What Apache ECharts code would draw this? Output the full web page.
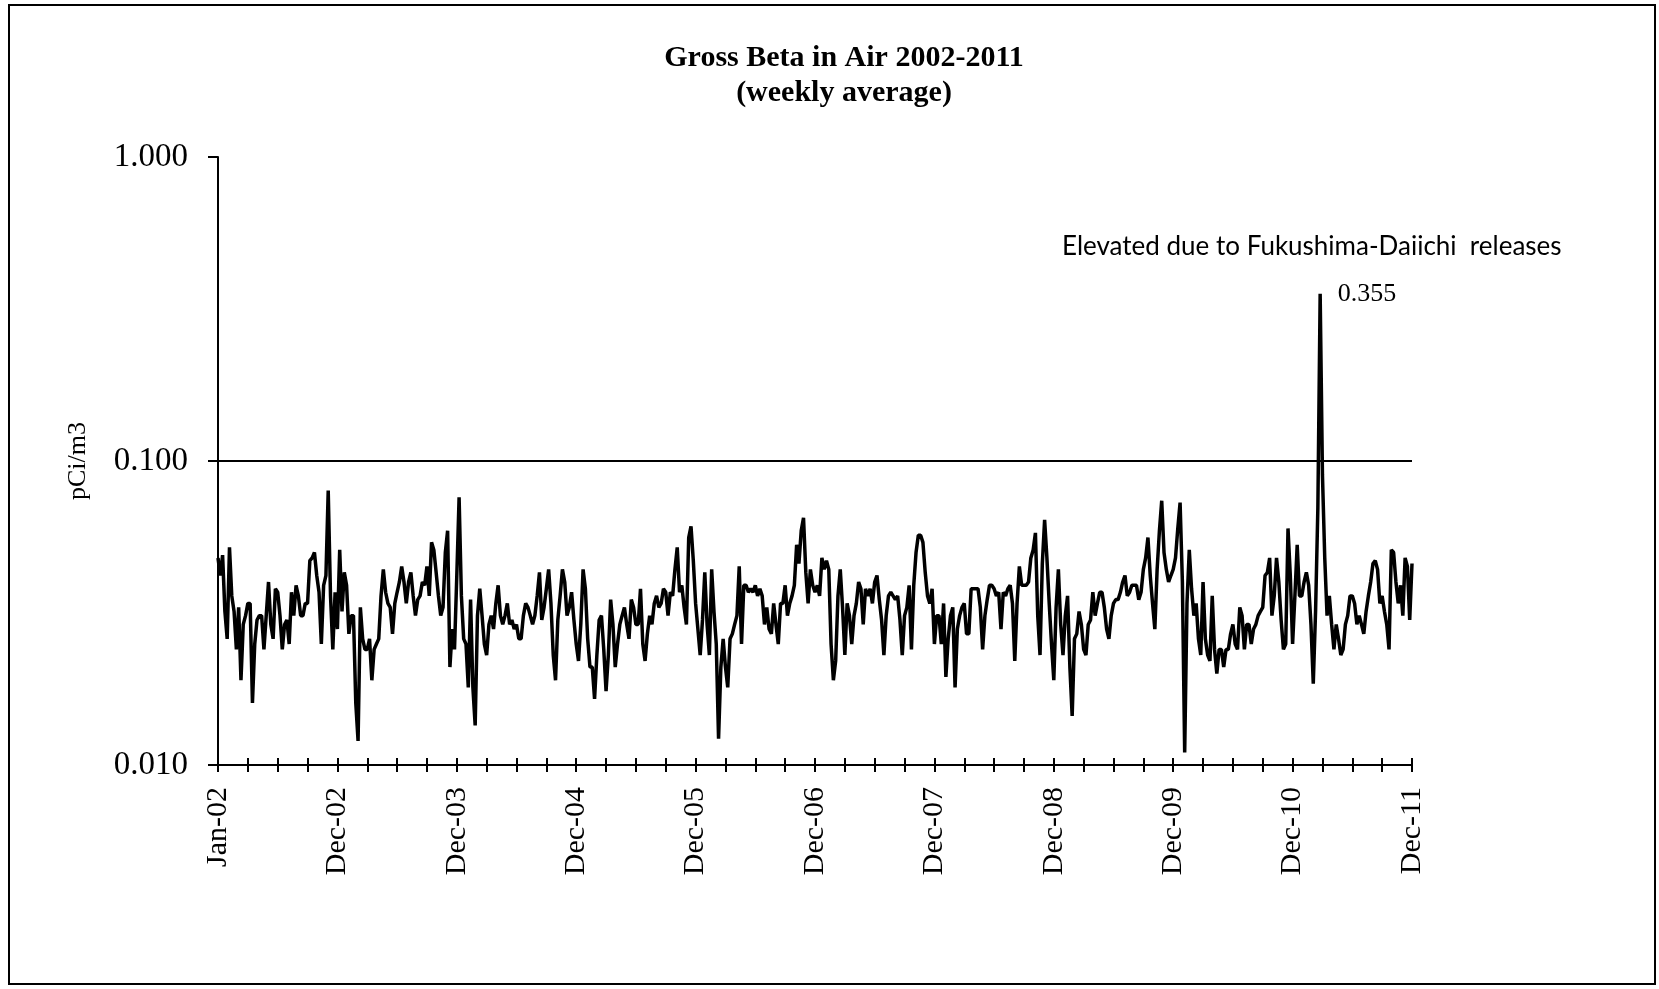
<!DOCTYPE html>
<html>
<head>
<meta charset="utf-8">
<script src="https://cdn.jsdelivr.net/npm/echarts@6/dist/echarts.min.js"></script>
<style>html,body{margin:0;padding:0;background:#fff}#chart{width:1659px;height:989px}</style>
</head>
<body>
<div id="chart"></div>
<script>
// Weekly gross beta values (pCi/m3), one array per year
const y2002 = [0.048,0.042,0.049,0.032,0.026,0.052,0.036,0.032,0.024,0.033,
  0.019,0.029,0.031,0.034,0.034,0.016,0.025,0.030,0.031,0.031,
  0.024,0.031,0.040,0.029,0.026,0.038,0.037,0.031,0.024,0.029,
  0.030,0.025,0.037,0.031,0.039,0.036,0.031,0.031,0.034,0.034,
  0.047,0.048,0.050,0.042,0.037,0.025,0.039,0.042,0.080,0.036,
  0.024,0.037];
const y2003 = [0.028,0.051,0.032,0.043,0.039,0.027,0.031,0.031,0.016,0.012,
  0.033,0.026,0.024,0.024,0.026,0.019,0.024,0.025,0.026,0.036,
  0.044,0.037,0.034,0.033,0.027,0.034,0.037,0.040,0.045,0.040,
  0.034,0.040,0.043,0.036,0.031,0.035,0.036,0.040,0.039,0.045,
  0.036,0.054,0.051,0.043,0.036,0.031,0.033,0.050,0.059,0.021,
  0.028,0.024];
const y2004 = [0.042,0.076,0.036,0.026,0.025,0.018,0.035,0.018,0.0135,0.031,
  0.038,0.031,0.025,0.023,0.029,0.031,0.028,0.034,0.039,0.031,
  0.029,0.031,0.034,0.029,0.030,0.028,0.029,0.026,0.026,0.031,
  0.034,0.033,0.031,0.029,0.031,0.036,0.043,0.030,0.033,0.038,
  0.044,0.034,0.023,0.019,0.030,0.036,0.044,0.040,0.031,0.033,
  0.037,0.030];
const y2005 = [0.025,0.022,0.029,0.044,0.038,0.026,0.021,0.021,0.0165,0.023,
  0.030,0.031,0.024,0.0175,0.023,0.035,0.029,0.021,0.025,0.029,
  0.031,0.033,0.029,0.026,0.035,0.033,0.029,0.029,0.038,0.025,
  0.022,0.027,0.031,0.029,0.034,0.036,0.033,0.034,0.038,0.037,
  0.031,0.037,0.036,0.044,0.052,0.037,0.039,0.033,0.029,0.056,
  0.061,0.047];
const y2006 = [0.034,0.028,0.023,0.030,0.043,0.029,0.023,0.044,0.032,0.025,
  0.0122,0.021,0.026,0.021,0.018,0.026,0.027,0.029,0.031,0.045,
  0.025,0.039,0.039,0.037,0.038,0.037,0.039,0.036,0.038,0.036,
  0.029,0.033,0.028,0.027,0.034,0.029,0.025,0.034,0.034,0.039,
  0.031,0.034,0.036,0.039,0.053,0.046,0.059,0.065,0.043,0.034,
  0.044,0.039];
const y2007 = [0.037,0.039,0.036,0.048,0.044,0.047,0.044,0.025,0.019,0.022,
  0.036,0.044,0.033,0.023,0.034,0.031,0.025,0.031,0.034,0.040,
  0.038,0.029,0.038,0.036,0.038,0.034,0.040,0.042,0.035,0.030,
  0.023,0.031,0.036,0.037,0.036,0.035,0.036,0.030,0.023,0.031,
  0.033,0.039,0.024,0.039,0.050,0.057,0.057,0.054,0.043,0.036,
  0.034,0.038];
const y2008 = [0.025,0.031,0.031,0.025,0.034,0.0195,0.026,0.031,0.033,0.018,
  0.028,0.031,0.033,0.034,0.027,0.027,0.038,0.038,0.038,0.038,
  0.033,0.024,0.031,0.035,0.039,0.039,0.038,0.036,0.037,0.028,
  0.037,0.036,0.038,0.039,0.034,0.022,0.034,0.045,0.039,0.039,
  0.039,0.040,0.048,0.051,0.058,0.031,0.023,0.046,0.064,0.048,
  0.034,0.025];
const y2009 = [0.019,0.033,0.044,0.029,0.023,0.031,0.036,0.021,0.0145,0.026,
  0.027,0.032,0.029,0.024,0.023,0.029,0.030,0.037,0.031,0.034,
  0.037,0.037,0.033,0.028,0.026,0.031,0.034,0.035,0.035,0.037,
  0.040,0.042,0.036,0.037,0.039,0.039,0.039,0.035,0.037,0.044,
  0.048,0.056,0.042,0.034,0.028,0.044,0.059,0.074,0.050,0.044,
  0.040,0.042];
const y2010 = [0.044,0.048,0.060,0.073,0.040,0.011,0.034,0.051,0.038,0.031,
  0.034,0.026,0.023,0.040,0.026,0.023,0.022,0.036,0.024,0.020,
  0.024,0.024,0.021,0.024,0.024,0.027,0.029,0.025,0.024,0.033,
  0.031,0.024,0.029,0.029,0.025,0.028,0.029,0.031,0.032,0.033,
  0.042,0.043,0.048,0.031,0.036,0.048,0.040,0.030,0.024,0.025,
  0.060,0.042];
const y2011 = [0.025,0.036,0.053,0.036,0.036,0.040,0.043,0.039,0.029,0.0185,
  0.032,0.070,0.355,0.090,0.048,0.031,0.036,0.029,0.024,0.029,
  0.026,0.023,0.024,0.029,0.031,0.036,0.036,0.034,0.029,0.031,
  0.029,0.027,0.032,0.036,0.040,0.046,0.047,0.044,0.034,0.036,
  0.032,0.029,0.024,0.051,0.050,0.040,0.034,0.039,0.031,0.048,
  0.045,0.030,0.046];

const values = [].concat(y2002, y2003, y2004, y2005, y2006, y2007, y2008, y2009, y2010, y2011);

const monthNames = ['Jan','Feb','Mar','Apr','May','Jun','Jul','Aug','Sep','Oct','Nov','Dec'];
const firstWeek = Date.UTC(2002, 0, 1);
const categories = values.map((_, i) => {
  const d = new Date(firstWeek + i * 7 * 86400000);
  return monthNames[d.getUTCMonth()] + '-' + String(d.getUTCFullYear()).slice(2);
});

const titleText = 'Gross Beta in Air 2002-2011\n(weekly average)';
const noteText = 'Elevated due to Fukushima-Daiichi  releases';
const yName = 'pCi/m3';
const referenceLevel = 0.1;

let peakIdx = 0;
values.forEach((v, i) => { if (v > values[peakIdx]) peakIdx = i; });

const serif = 'Liberation Serif';
const chart = echarts.init(document.getElementById('chart'), null, {renderer: 'canvas'});
chart.setOption({
  animation: false,
  backgroundColor: '#fff',
  title: {
    text: titleText, left: 839, top: 36, textAlign: 'center',
    textStyle: {fontFamily: serif, fontWeight: 'bold', fontSize: 30, lineHeight: 35, color: '#000'}
  },
  grid: {left: 218, right: 247, top: 157, bottom: 224},
  xAxis: [{
    type: 'category', data: categories, boundaryGap: false,
    axisLine: {onZero: false, lineStyle: {color: '#000', width: 2}},
    axisTick: {interval: 12, length: 7, lineStyle: {color: '#000', width: 2}},
    axisLabel: {interval: 51, rotate: 90, margin: 22, fontFamily: serif, fontSize: 30, color: '#000'},
    splitLine: {show: false}
  }, {
    type: 'category', data: categories, boundaryGap: false, position: 'bottom',
    axisLine: {show: false, onZero: false},
    axisTick: {inside: true, interval: 12, length: 7, lineStyle: {color: '#000', width: 2}},
    axisLabel: {show: false}, splitLine: {show: false}
  }],
  yAxis: {
    type: 'log', logBase: 10, min: 0.01, max: 1,
    name: yName, nameLocation: 'middle', nameGap: 127,
    nameTextStyle: {fontFamily: serif, fontSize: 26, color: '#000'},
    axisLine: {show: true, lineStyle: {color: '#000', width: 2}},
    axisTick: {show: true, length: 10, lineStyle: {color: '#000', width: 2}},
    axisLabel: {margin: 30, fontFamily: serif, fontSize: 33, color: '#000',
      formatter: v => Number(v).toFixed(3)},
    splitLine: {show: false}
  },
  series: [{
    type: 'line', data: values, xAxisIndex: 0, showSymbol: false, symbol: 'none',
    lineStyle: {color: '#000', width: 3.5},
    markLine: {
      silent: true, symbol: 'none', label: {show: false},
      lineStyle: {color: '#000', width: 2, type: 'solid'},
      data: [{yAxis: referenceLevel}]
    },
    markPoint: {
      symbol: 'circle', symbolSize: 1, itemStyle: {color: 'rgba(0,0,0,0)'},
      label: {show: true, position: 'right', distance: 17, color: '#000',
        fontFamily: serif, fontSize: 26, formatter: p => Number(p.value).toFixed(3)},
      data: [{coord: [peakIdx, values[peakIdx]], value: values[peakIdx]}]
    }
  }],
  graphic: [{
    type: 'rect', silent: true,
    shape: {x: 9, y: 5, width: 1646, height: 979},
    style: {fill: 'none', stroke: '#000', lineWidth: 2}
  }, {
    type: 'text', left: 1062, top: 234, silent: true,
    style: {text: noteText, fill: '#000', font: '26px Lato'}
  }]
});
</script>
</body>
</html>
